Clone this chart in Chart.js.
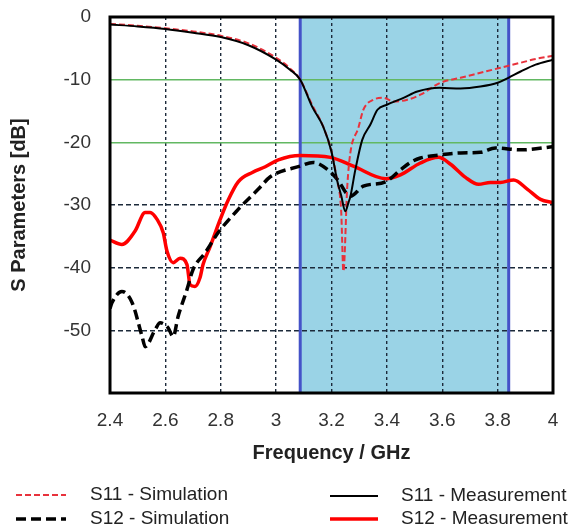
<!DOCTYPE html>
<html>
<head>
<meta charset="utf-8">
<title>S Parameters</title>
<script src="https://cdn.jsdelivr.net/npm/chart.js@4"></script>
<style>
  html, body { margin: 0; padding: 0; background: #fff; }
  #wrap { width: 579px; height: 531px; }
</style>
</head>
<body>
<div id="wrap"><canvas id="sparams" width="579" height="531"></canvas></div>
<script>
// axis ticks
const xTicks = [2.4, 2.6, 2.8, 3.0, 3.2, 3.4, 3.6, 3.8, 4.0];
const yTicks = [0, -10, -20, -30, -40, -50, -60];
const limitLines = [-10, -20];     // green -10 dB / -20 dB lines
const bandStart = 3.087;           // shaded band, GHz
const bandEnd = 3.84;

// S11 - Simulation
const s11SimFreq = [2.40, 2.50, 2.60, 2.70, 2.80, 2.90, 3.00, 3.05, 3.087, 3.13, 3.17, 3.20, 3.22, 3.235, 3.243, 3.257, 3.268, 3.297, 3.315, 3.351, 3.387, 3.424, 3.474, 3.521, 3.593, 3.666, 3.738, 3.81, 3.883, 3.937, 4.00];
const s11SimDb = [-1.1, -1.4, -1.8, -2.3, -3.0, -4.2, -6.5, -8.2, -10, -14, -17.5, -21.5, -26, -31, -40.6, -27, -21.7, -17.7, -14.8, -13.2, -12.9, -13.5, -13.2, -12.4, -10.5, -9.7, -8.9, -8.1, -7.3, -6.7, -6.2];

// S11 - Measurement
const s11MeasFreq = [2.40, 2.50, 2.60, 2.70, 2.80, 2.90, 3.00, 3.05, 3.087, 3.13, 3.17, 3.20, 3.22, 3.235, 3.25, 3.262, 3.268, 3.286, 3.311, 3.34, 3.366, 3.40, 3.46, 3.51, 3.59, 3.666, 3.738, 3.80, 3.839, 3.883, 3.937, 4.00];
const s11MeasDb = [-1.2, -1.5, -1.9, -2.5, -3.2, -4.5, -6.8, -8.4, -10, -14.3, -17.5, -21.5, -26, -28.5, -31, -29.5, -28.7, -24.4, -19.6, -17.2, -14.8, -14, -12.9, -11.9, -11.3, -11.4, -11.1, -10.5, -9.7, -8.7, -7.6, -6.8];

// S12 - Simulation
const s12SimFreq = [2.40, 2.407, 2.443, 2.48, 2.516, 2.527, 2.563, 2.581, 2.61, 2.628, 2.646, 2.678, 2.70, 2.744, 2.791, 2.863, 2.935, 2.979, 3.087, 3.134, 3.185, 3.221, 3.268, 3.315, 3.395, 3.449, 3.485, 3.521, 3.593, 3.666, 3.738, 3.792, 3.883, 4.00];
const s12SimDb = [-46.5, -45.6, -43.8, -45.6, -51, -52.6, -49.9, -48.8, -49.6, -51, -47.8, -43.5, -40.3, -37.6, -34.4, -30.7, -27.5, -25.5, -23.8, -23.2, -24.3, -25.9, -28.6, -27, -26.3, -24.4, -23.2, -22.5, -22, -21.7, -21.6, -20.9, -21.2, -20.7];

// S12 - Measurement
const s12MeasFreq = [2.40, 2.443, 2.49, 2.527, 2.545, 2.57, 2.592, 2.606, 2.628, 2.653, 2.678, 2.689, 2.707, 2.725, 2.736, 2.762, 2.798, 2.827, 2.863, 2.914, 2.961, 3.008, 3.087, 3.196, 3.279, 3.395, 3.449, 3.521, 3.586, 3.63, 3.684, 3.731, 3.774, 3.81, 3.858, 3.908, 3.955, 4.00];
const s12MeasDb = [-35.6, -36.3, -34.2, -31.2, -31.2, -32.3, -34.4, -37.4, -39.2, -38.5, -39.5, -42.7, -43, -41.6, -39.5, -36.6, -32.3, -29.2, -26.3, -24.8, -23.9, -22.8, -22.1, -22.4, -23.8, -25.8, -25.2, -23.3, -22.4, -23.5, -25.6, -26.7, -26.4, -26.4, -26, -27.5, -29.1, -29.6];

const FONT = "'Liberation Sans', Arial, sans-serif";

function pts(f, d) {
  return f.map((v, i) => ({ x: v, y: d[i] }));
}

// legend slots: [lineX0, lineX1, textX, y]
const legendSlots = [
  [330, 378, 401, 496],  // S11 - Measurement
  [16, 66, 90, 495],     // S11 - Simulation
  [16, 66, 90, 519],     // S12 - Simulation
  [330, 378, 401, 519]   // S12 - Measurement
];

const decorPlugin = {
  id: 'decor',
  beforeDraw(chart) {
    const { ctx, chartArea: a, scales: { x } } = chart;
    const x0 = x.getPixelForValue(bandStart);
    const x1 = x.getPixelForValue(bandEnd);
    ctx.save();
    ctx.fillStyle = '#9ad3e6';
    ctx.fillRect(x0, a.top, x1 - x0, a.bottom - a.top);
    ctx.restore();
  },
  beforeDatasetsDraw(chart) {
    const { ctx, chartArea: a, scales: { x } } = chart;
    ctx.save();
    ctx.strokeStyle = '#4452c8';
    ctx.lineWidth = 3;
    [bandStart, bandEnd].forEach(f => {
      const px = x.getPixelForValue(f);
      ctx.beginPath();
      ctx.moveTo(px, a.top);
      ctx.lineTo(px, a.bottom);
      ctx.stroke();
    });
    ctx.restore();
  },
  afterDraw(chart) {
    const { ctx, chartArea: a } = chart;
    ctx.save();
    // plot frame
    ctx.strokeStyle = '#000';
    ctx.lineWidth = 3;
    ctx.strokeRect(a.left, a.top, a.right - a.left, a.bottom - a.top);

    // legend
    ctx.font = '19px ' + FONT;
    ctx.textBaseline = 'middle';
    ctx.textAlign = 'left';
    chart.data.datasets.forEach((ds, i) => {
      const [l0, l1, tx, y] = legendSlots[i];
      ctx.strokeStyle = ds.borderColor;
      ctx.lineWidth = ds.borderWidth;
      ctx.setLineDash(ds.borderDash || []);
      ctx.beginPath();
      ctx.moveTo(l0, y);
      ctx.lineTo(l1, y);
      ctx.stroke();
      ctx.setLineDash([]);
      ctx.fillStyle = '#222';
      ctx.fillText(ds.label, tx, y);
    });
    ctx.restore();
  }
};

new Chart(document.getElementById('sparams'), {
  type: 'line',
  data: {
    datasets: [
      { label: 'S11 - Measurement', data: pts(s11MeasFreq, s11MeasDb), borderColor: '#000000', borderWidth: 2 },
      { label: 'S11 - Simulation', data: pts(s11SimFreq, s11SimDb), borderColor: '#e8323c', borderWidth: 2, borderDash: [6, 3] },
      { label: 'S12 - Simulation', data: pts(s12SimFreq, s12SimDb), borderColor: '#000000', borderWidth: 3.5, borderDash: [10, 5] },
      { label: 'S12 - Measurement', data: pts(s12MeasFreq, s12MeasDb), borderColor: '#ff0000', borderWidth: 3.5 }
    ]
  },
  options: {
    responsive: false,
    animation: false,
    layout: { padding: { left: 0, top: 17, right: 26, bottom: 66 } },
    elements: {
      point: { radius: 0 },
      line: { cubicInterpolationMode: 'monotone', fill: false }
    },
    plugins: {
      legend: { display: false },
      tooltip: { enabled: false }
    },
    scales: {
      x: {
        type: 'linear',
        min: 2.4,
        max: 4.0,
        afterBuildTicks: s => { s.ticks = xTicks.map(v => ({ value: v })); },
        afterFit: s => { s.height = 72; s.paddingLeft = 0; s.paddingRight = 0; },
        ticks: {
          padding: 16,
          color: '#333',
          font: { family: FONT, size: 19 },
          callback: v => String(Number(v.toFixed(1)))
        },
        grid: {
          drawTicks: false,
          lineWidth: 1.4,
          color: c => (c.tick && (c.tick.value === 2.4 || c.tick.value === 4.0)) ? 'rgba(0,0,0,0)' : '#1c2a3a'
        },
        border: { display: false, dash: [3, 3] },
        title: {
          display: true,
          text: 'Frequency / GHz',
          color: '#222',
          font: { family: FONT, size: 20, weight: 'bold' },
          padding: { top: 0, bottom: 0 }
        }
      },
      y: {
        type: 'linear',
        min: -60,
        max: 0,
        afterBuildTicks: s => { s.ticks = yTicks.map(v => ({ value: v })); },
        afterFit: s => { s.width = 110; s.paddingTop = 0; s.paddingBottom = 0; },
        ticks: {
          padding: 19,
          color: '#333',
          font: { family: FONT, size: 19 },
          callback: v => (v === -60 ? '' : String(v))
        },
        grid: {
          drawTicks: false,
          lineWidth: c => (c.tick && limitLines.includes(c.tick.value)) ? 1.6 : 1.4,
          color: c => {
            if (!c.tick) return '#1c2a3a';
            if (limitLines.includes(c.tick.value)) return '#62b862';
            if (c.tick.value === 0 || c.tick.value === -60) return 'rgba(0,0,0,0)';
            return '#1c2a3a';
          }
        },
        border: {
          display: false,
          dash: c => (c.tick && limitLines.includes(c.tick.value)) ? [] : [5, 3]
        },
        title: {
          display: true,
          text: 'S Parameters [dB]',
          color: '#222',
          font: { family: FONT, size: 20, weight: 'bold' },
          padding: { top: 7, bottom: 0 }
        }
      }
    }
  },
  plugins: [decorPlugin]
});
</script>
</body>
</html>
